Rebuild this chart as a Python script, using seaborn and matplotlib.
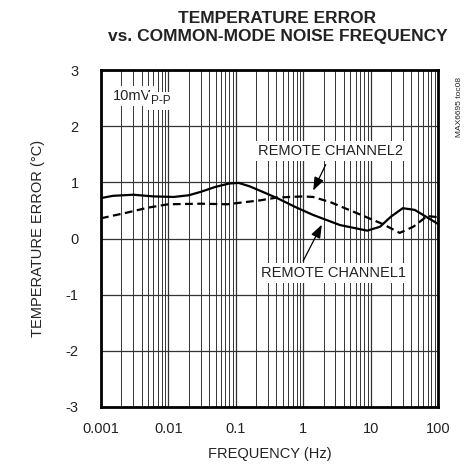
import numpy as np
import pandas as pd
import matplotlib
matplotlib.use('Agg')
import matplotlib.pyplot as plt
import seaborn as sns

# curve data
ch1_freq = [0.001, 0.0015, 0.003, 0.006, 0.012, 0.02, 0.03, 0.05, 0.08, 0.11,
            0.16, 0.23, 0.41, 0.8, 1.4, 3.5, 8.9, 13.8, 20, 30, 45, 60, 100]
ch1_err = [0.72, 0.76, 0.78, 0.75, 0.74, 0.77, 0.83, 0.92, 0.98, 0.99,
           0.93, 0.85, 0.72, 0.55, 0.42, 0.24, 0.14, 0.21, 0.39, 0.54, 0.51, 0.42, 0.26]
ch2_freq = [0.001, 0.0024, 0.005, 0.01, 0.03, 0.074, 0.23, 0.41, 1.0, 1.4,
            2.5, 6.3, 15, 27, 43, 69, 100]
ch2_err = [0.36, 0.46, 0.55, 0.61, 0.62, 0.61, 0.68, 0.73, 0.75, 0.74,
           0.65, 0.45, 0.26, 0.10, 0.21, 0.40, 0.38]

x_ticks = [0.001, 0.01, 0.1, 1, 10, 100]
x_ticklabels = ['0.001', '0.01', '0.1', '1', '10', '100']
y_ticks = [-3, -2, -1, 0, 1, 2, 3]

df = pd.concat([
    pd.DataFrame({'freq': ch1_freq, 'err': ch1_err, 'channel': 'REMOTE CHANNEL1'}),
    pd.DataFrame({'freq': ch2_freq, 'err': ch2_err, 'channel': 'REMOTE CHANNEL2'}),
])

sns.set_style('white')
plt.rcParams['font.family'] = ['Liberation Sans', 'DejaVu Sans']

fig = plt.figure(figsize=(4.71, 4.67), dpi=100)
ax = fig.add_axes([0.2144, 0.1285, 0.7156, 0.7215])

sns.lineplot(data=df, x='freq', y='err', style='channel',
             style_order=['REMOTE CHANNEL1', 'REMOTE CHANNEL2'],
             dashes={'REMOTE CHANNEL1': '', 'REMOTE CHANNEL2': (3.5, 2)},
             color='black', linewidth=1.6, legend=False, ax=ax, zorder=3)

ax.set_xscale('log')
ax.set_xlim(0.001, 100)
ax.set_ylim(-3, 3)
ax.set_xticks(x_ticks)
ax.set_xticklabels(x_ticklabels)
ax.set_yticks(y_ticks)
ax.set_yticklabels([str(v) for v in y_ticks])
ax.tick_params(axis='both', length=0, labelsize=10.5, colors='#222222')
ax.tick_params(axis='y', pad=16)
ax.tick_params(axis='x', pad=11)

ax.grid(True, which='major', axis='both', color='#333333', linewidth=0.9)
ax.grid(True, which='minor', axis='x', color='#333333', linewidth=0.7)
ax.set_axisbelow(True)
for s in ax.spines.values():
    s.set_color('black')
    s.set_linewidth(2)

ax.set_xlabel('FREQUENCY (Hz)', fontsize=10.5, color='#222222', labelpad=8)
ax.set_ylabel('TEMPERATURE ERROR (°C)', fontsize=10.5, color='#222222', labelpad=15)

fig.suptitle('TEMPERATURE ERROR\nvs. COMMON-MODE NOISE FREQUENCY', x=0.589, y=0.977,
             fontsize=12.5, fontweight='bold', linespacing=1.25, color='#222222')

box = dict(facecolor='white', edgecolor='none', pad=2)
t = ax.text(0.0015, 2.54, '10mV', fontsize=10.5, ha='left', va='center',
            bbox=box, zorder=4, color='#222222')
ax.annotate('P-P', xy=(1, 0.12), xycoords=t, fontsize=8.5, ha='left', va='center',
            bbox=box, zorder=4, color='#222222')
ax.text(2.5, 1.56, 'REMOTE CHANNEL2', fontsize=10.5, ha='center', va='center',
        bbox=box, zorder=4, color='#222222')
ax.text(2.86, -0.61, 'REMOTE CHANNEL1', fontsize=10.5, ha='center', va='center',
        bbox=box, zorder=4, color='#222222')
arrow = dict(arrowstyle='-|>,head_length=0.8,head_width=0.3', color='black', lw=0.9)
ax.annotate('', xy=(1.35, 0.81), xytext=(2.25, 1.36), arrowprops=arrow, zorder=5)
ax.annotate('', xy=(1.97, 0.29), xytext=(0.96, -0.44), arrowprops=arrow, zorder=5)

fig.text(0.975, 0.77, 'MAX6695 toc08', rotation=90, fontsize=6, ha='center', va='center',
         color='#222222')

fig.savefig('out.png', dpi=100)
